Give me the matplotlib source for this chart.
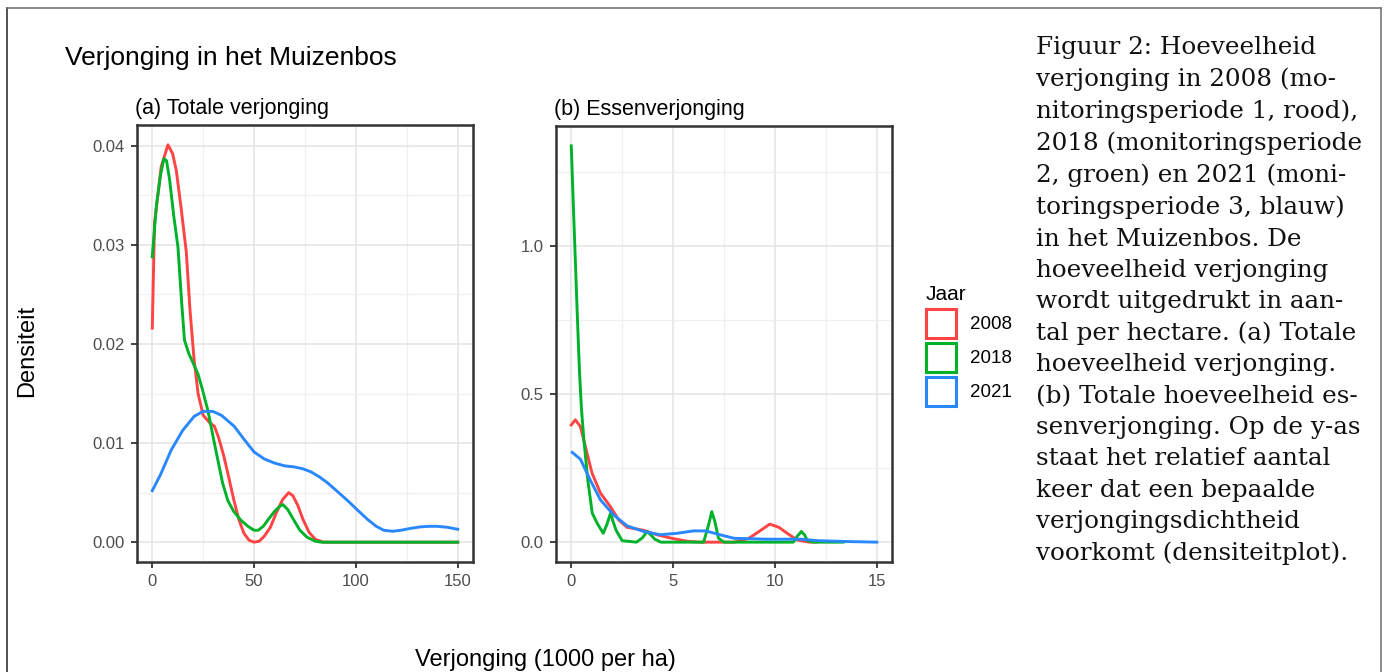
import matplotlib
matplotlib.use("Agg")
import matplotlib.pyplot as plt
from matplotlib.patches import Patch
from matplotlib.lines import Line2D

# Density curves, panel (a): total regeneration (1000 per ha)
a08_x = [0, 1.1, 4.4, 7.7, 10, 11.8, 14, 16.7, 18.5, 20.5, 22.5, 25, 28, 30.5, 32.5, 35, 37.5, 40,
         42.5, 45, 47.5, 50, 52.5, 55, 58, 61, 64, 67, 69, 71.5, 74, 77, 80, 84, 150]
a08_y = [0.0216, 0.0322, 0.0379, 0.0401, 0.0392, 0.0375, 0.034, 0.0293, 0.0235, 0.0185, 0.0150,
         0.0128, 0.0121, 0.0117, 0.0106, 0.0088, 0.0066, 0.0043, 0.0023, 0.0009, 0.0002, 0.0,
         0.0001, 0.0006, 0.0015, 0.0030, 0.0043, 0.0050, 0.0047, 0.0037, 0.0023, 0.0010, 0.0003,
         0.0, 0.0]
a18_x = [0, 2, 4, 5.7, 7, 8.5, 10.5, 12.6, 14.5, 15.8, 18, 20, 22.4, 24.5, 27.3, 30, 32.2, 34.5,
         37.1, 40, 43.6, 47, 50, 52, 54.5, 57, 60, 62.5, 64.1, 66.5, 69.6, 72.5, 76, 80, 83, 150]
a18_y = [0.0288, 0.0339, 0.037, 0.0387, 0.0385, 0.0366, 0.033, 0.0298, 0.024, 0.0204, 0.0190,
         0.0181, 0.0170, 0.0155, 0.0133, 0.0105, 0.0083, 0.0060, 0.0042, 0.0031, 0.0022, 0.0016,
         0.0012, 0.0012, 0.0016, 0.0023, 0.0031, 0.0036, 0.0038, 0.0033, 0.0022, 0.0012, 0.0005,
         0.0001, 0.0, 0.0]
a21_x = [0, 4, 9.3, 15, 20.6, 25, 29.7, 34, 40.2, 45, 50, 55, 59.8, 65, 69.6, 74, 77.9, 82, 86,
         91, 95.9, 101, 105.7, 110, 113.7, 118, 122, 127, 131.9, 136, 140, 145, 150]
a21_y = [0.0052, 0.0068, 0.0093, 0.0113, 0.0127, 0.0132, 0.0132, 0.0128, 0.0117, 0.0104, 0.0091,
         0.0084, 0.0080, 0.0077, 0.0076, 0.0074, 0.0071, 0.0066, 0.0060, 0.0051, 0.0042, 0.0032,
         0.0023, 0.0016, 0.0012, 0.0011, 0.0012, 0.0014, 0.00155, 0.0016, 0.0016, 0.0015, 0.0013]

# panel (b): ash regeneration
b08_x = [0, 0.2, 0.45, 0.69, 1.02, 1.43, 1.92, 2.33, 2.74, 3.56, 4.2, 5.0, 5.7, 6.3, 8.0, 8.7,
         9.2, 9.75, 10.2, 10.6, 11.1, 11.7, 12.0]
b08_y = [0.396, 0.413, 0.39, 0.323, 0.233, 0.166, 0.12, 0.075, 0.05, 0.04, 0.025, 0.012, 0.003,
         0.0, 0.0, 0.012, 0.035, 0.061, 0.05, 0.03, 0.007, 0.0, 0.0]
b18_x = [0, 0.1, 0.2, 0.3, 0.4, 0.5, 0.62, 0.81, 1.03, 1.27, 1.57, 1.75, 1.93, 2.05, 2.2, 2.5,
         3.2, 3.5, 3.72, 3.9, 4.1, 4.4, 6.5, 6.75, 6.9, 7.05, 7.23, 7.5, 10.9, 11.1, 11.3, 11.45,
         11.6, 11.9, 13.35]
b18_y = [1.338, 1.14, 0.95, 0.76, 0.58, 0.45, 0.345, 0.21, 0.098, 0.064, 0.030, 0.06, 0.098,
         0.07, 0.04, 0.005, 0.0, 0.015, 0.036, 0.025, 0.01, 0.0, 0.0, 0.06, 0.103, 0.07, 0.013,
         0.0, 0.0, 0.02, 0.036, 0.025, 0.005, 0.0, 0.0]
b21_x = [0.05, 0.45, 0.93, 1.43, 2.08, 2.74, 3.56, 4.38, 5.2, 6.0, 6.6, 7.3, 8.0, 9.6, 11.3,
         12.1, 13.6, 15]
b21_y = [0.303, 0.28, 0.21, 0.143, 0.092, 0.055, 0.036, 0.025, 0.03, 0.038, 0.038, 0.025, 0.013,
         0.01, 0.01, 0.005, 0.002, 0.0]

years = ["2008", "2018", "2021"]
colors = {"2008": "#FF4444", "2018": "#00B22A", "2021": "#2A88FF"}

caption = ("Figuur 2: Hoeveelheid\nverjonging in 2008 (mo-\nnitoringsperiode 1, rood),\n"
           "2018 (monitoringsperiode\n2, groen) en 2021 (moni-\ntoringsperiode 3, blauw)\n"
           "in het Muizenbos. De\nhoeveelheid verjonging\nwordt uitgedrukt in aan-\n"
           "tal per hectare. (a) Totale\nhoeveelheid verjonging.\n(b) Totale hoeveelheid es-\n"
           "senverjonging. Op de y-as\nstaat het relatief aantal\nkeer dat een bepaalde\n"
           "verjongingsdichtheid\nvoorkomt (densiteitplot).")

plt.rcParams["font.family"] = ["Liberation Sans", "DejaVu Sans"]

fig = plt.figure(figsize=(13.86, 6.72), dpi=100)
W, H = 1386, 672

# outer frame
fig.add_artist(Line2D([7 / W, 7 / W], [0, 1 - 8 / H], color="#333333", lw=1.2))
fig.add_artist(Line2D([7 / W, 1381 / W], [1 - 8 / H, 1 - 8 / H], color="#777777", lw=1.2))
fig.add_artist(Line2D([1381 / W, 1381 / W], [0, 1 - 8 / H], color="#777777", lw=1.2))

ax_a = fig.add_axes([137 / W, 110 / H, 336 / W, 437 / H])
ax_b = fig.add_axes([556 / W, 110 / H, 336 / W, 436 / H])


def style(ax, xmaj, xmin, ymaj, ymin, xlim, ylim, fmt):
    ax.set_xlim(*xlim)
    ax.set_ylim(*ylim)
    ax.set_xticks(xmaj)
    ax.set_xticks(xmin, minor=True)
    ax.set_yticks(ymaj)
    ax.set_yticks(ymin, minor=True)
    ax.set_yticklabels([fmt.format(v) for v in ymaj])
    ax.set_xticklabels([str(v) for v in xmaj])
    ax.grid(which="major", color="#E6E6E6", lw=1.2)
    ax.grid(which="minor", color="#F0F0F0", lw=0.9)
    ax.set_axisbelow(True)
    for s in ax.spines.values():
        s.set_color("#333333")
        s.set_linewidth(1.8)
    ax.tick_params(which="major", length=4, width=1.3, color="#333333",
                   labelsize=12, labelcolor="#4D4D4D", pad=5)
    ax.tick_params(which="minor", length=0)


style(ax_a, [0, 50, 100, 150], [25, 75, 125], [0.0, 0.01, 0.02, 0.03, 0.04],
      [0.005, 0.015, 0.025, 0.035], (-7.5, 157.5), (-0.002, 0.0421), "{:.2f}")
style(ax_b, [0, 5, 10, 15], [2.5, 7.5, 12.5], [0.0, 0.5, 1.0], [0.25, 0.75, 1.25],
      (-0.75, 15.75), (-0.067, 1.405), "{:.1f}")

for yr, xs, ys in zip(years, [a08_x, a18_x, a21_x], [a08_y, a18_y, a21_y]):
    ax_a.plot(xs, ys, color=colors[yr], lw=2.1)
for yr, xs, ys in zip(years, [b08_x, b18_x, b21_x], [b08_y, b18_y, b21_y]):
    ax_b.plot(xs, ys, color=colors[yr], lw=2.1)

ax_a.set_title("(a) Totale verjonging", loc="left", fontsize=15.5, pad=8, x=-0.005)
ax_b.set_title("(b) Essenverjonging", loc="left", fontsize=15.5, pad=8, x=-0.005)

fig.text(65 / W, 1 - 58 / H, "Verjonging in het Muizenbos", fontsize=19, va="center", ha="left")
fig.text(27 / W, 1 - 351 / H, "Densiteit", fontsize=17, rotation=90, va="center", ha="center")
fig.text(545 / W, 1 - 660 / H, "Verjonging (1000 per ha)", fontsize=17, va="center", ha="center")

handles = [Patch(facecolor="white", edgecolor=colors[y], lw=2.2) for y in years]
leg = fig.legend(handles, years, title="Jaar", loc="upper left",
                 bbox_to_anchor=(911 / W, 1 - 270 / H), frameon=False, fontsize=13.5,
                 title_fontsize=15, handlelength=1.6, handleheight=2.05, handletextpad=0.75,
                 labelspacing=0.24, borderpad=0.3)
leg._legend_box.align = "left"

fig.text(1036 / W, 1 - 36 / H, caption, fontsize=17.7, va="top", ha="left",
         family="DejaVu Serif", linespacing=1.46, color="#111111")

fig.savefig("out.png", dpi=100)
